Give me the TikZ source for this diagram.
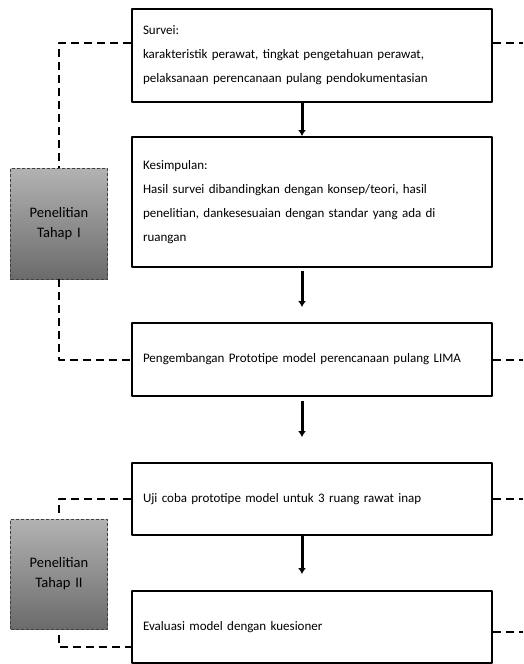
\documentclass[tikz,border=0pt]{standalone}
\usepackage{fontspec}
\setmainfont{Carlito}
\usetikzlibrary{arrows.meta, positioning}
\tikzset{>=latex}
\tikzset{
	stepbox/.style={draw, line width=2pt, minimum width=360pt, text width=338pt, inner xsep=11pt, align=left, font=\fontsize{13}{24}\selectfont},
	phasebox/.style={draw=black!75, densely dashed, line width=0.8pt, top color=black!30, bottom color=black!58, minimum width=94pt, text width=90pt, align=center, font=\fontsize{14.5}{20}\selectfont},
	link/.style={line width=2pt, dash pattern=on 8pt off 5pt},
	flow/.style={line width=3pt, -{Latex[length=6pt, width=8pt]}}
}

\begin{document}
\begin{tikzpicture}[x=1pt, y=-1pt, line join=round]
	\useasboundingbox (0,0) rectangle (523,664);
	\coordinate (edge) at (523,0);
	
	% Steps
	\node[stepbox, minimum height=93pt] (survei) at (312,55.5) {Survei:\\karakteristik perawat, tingkat pengetahuan perawat,\\pelaksanaan perencanaan pulang pendokumentasian};
	\node[stepbox, minimum height=130pt] (kesimpulan) at (312,202) {Kesimpulan:\\Hasil survei dibandingkan dengan konsep/teori, hasil\\penelitian, dankesesuaian dengan standar yang ada di\\ruangan};
	\node[stepbox, minimum height=73pt] (pengembangan) at (312,359.5) {Pengembangan Prototipe model perencanaan pulang LIMA};
	\node[stepbox, minimum height=72pt] (ujicoba) at (312,499) {Uji coba prototipe model untuk 3 ruang rawat inap};
	\node[stepbox, minimum height=72pt] (evaluasi) at (312,627) {Evaluasi model dengan kuesioner};
	
	% Phases
	\node[phasebox, minimum height=111pt] (tahap1) at (59,223.5) {Penelitian\\Tahap I};
	\node[phasebox, minimum height=110pt] (tahap2) at (59,574) {Penelitian\\Tahap II};
	
	% Arrows
	\draw[flow] ([xshift=-10pt]survei.south) -- ([xshift=-10pt]kesimpulan.north);
	\draw[flow, shorten <=3pt, shorten >=15pt] ([xshift=-10pt]kesimpulan.south) -- ([xshift=-10pt]pengembangan.north);
	\draw[flow, shorten <=4pt, shorten >=25pt] ([xshift=-10pt]pengembangan.south) -- ([xshift=-10pt]ujicoba.north);
	\draw[flow, shorten >=16pt] ([xshift=-10pt]ujicoba.south) -- ([xshift=-10pt]evaluasi.north);
	
	% Dashed links, left
	\draw[link] ([yshift=12.5pt]survei.west) -| (tahap1.north);
	\draw[link] (tahap1.south) |- (pengembangan.west);
	\draw[link] (ujicoba.west) -| ([yshift=6pt]tahap2.north);
	\draw[link] ([yshift=-6pt]tahap2.south) |- ([yshift=-20pt]evaluasi.west);
	
	% Dashed links, right
	\draw[link] ([yshift=12.5pt]survei.east) -- ([yshift=12.5pt]survei.east -| edge);
	\draw[link] (pengembangan.east) -- (pengembangan.east -| edge);
	\draw[link] (ujicoba.east) -- (ujicoba.east -| edge);
	\draw[link] ([yshift=-5pt]evaluasi.east) -- ([yshift=-5pt]evaluasi.east -| edge);
\end{tikzpicture}
\end{document}
